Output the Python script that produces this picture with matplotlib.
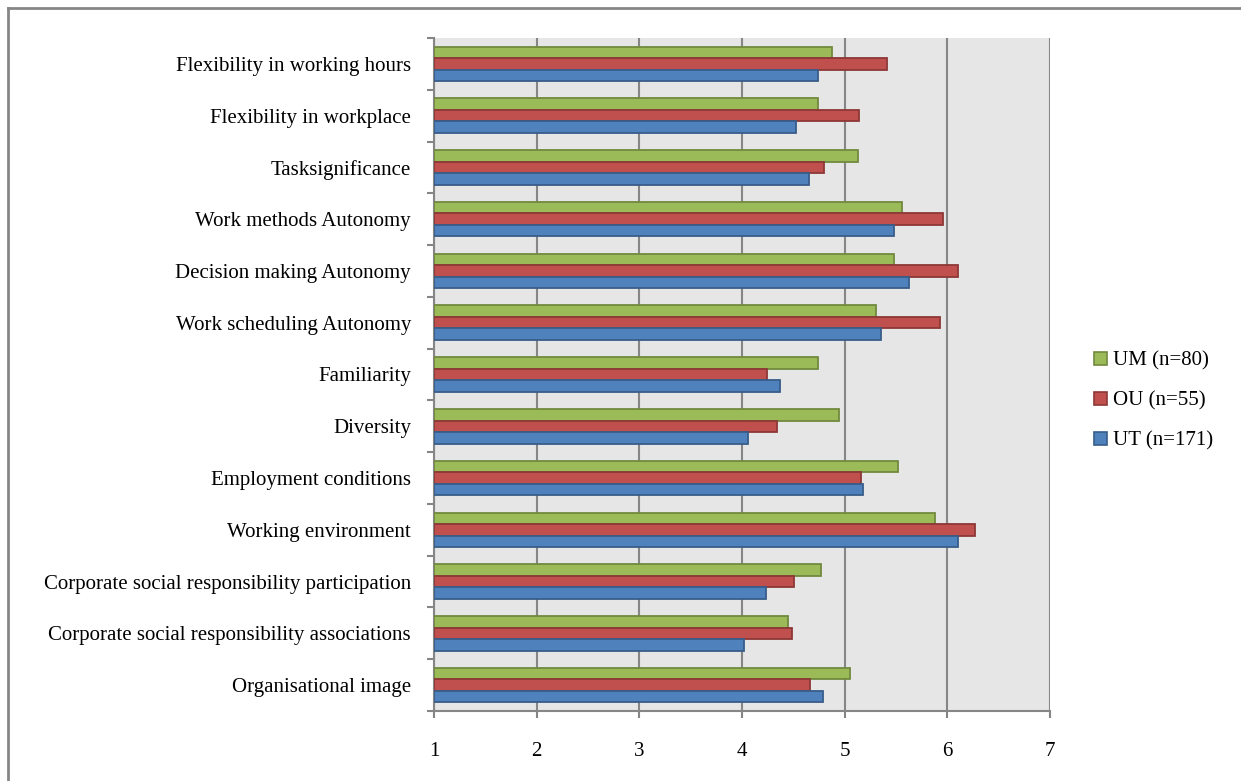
import matplotlib
matplotlib.use("Agg")
import matplotlib.pyplot as plt
from matplotlib.lines import Line2D
from matplotlib.patches import Patch
import numpy as np

categories = [
    "Flexibility in working hours",
    "Flexibility in workplace",
    "Tasksignificance",
    "Work methods Autonomy",
    "Decision making Autonomy",
    "Work scheduling Autonomy",
    "Familiarity",
    "Diversity",
    "Employment conditions",
    "Working environment",
    "Corporate social responsibility participation",
    "Corporate social responsibility associations",
    "Organisational image",
]
um_values = [4.88, 4.74, 5.13, 5.56, 5.48, 5.31, 4.74, 4.94, 5.52, 5.88, 4.77, 4.45, 5.05]
ou_values = [5.41, 5.14, 4.80, 5.96, 6.10, 5.93, 4.24, 4.34, 5.16, 6.27, 4.51, 4.49, 4.66]
ut_values = [4.74, 4.53, 4.65, 5.48, 5.63, 5.35, 4.37, 4.06, 5.18, 6.10, 4.23, 4.02, 4.79]
series_labels = ["UM (n=80)", "OU (n=55)", "UT (n=171)"]
x_ticks = [1, 2, 3, 4, 5, 6, 7]

face_colors = ["#9BBB59", "#C0504D", "#4F81BD"]
edge_colors = ["#71893F", "#8C3836", "#385D8A"]

plt.rcParams["font.family"] = ["Liberation Serif", "DejaVu Serif"]
FS = 15

W, H = 1241, 781
fig = plt.figure(figsize=(W / 100, H / 100), dpi=100)
ax = fig.add_axes([434 / W, 1 - 711 / H, (1050 - 434) / W, (711 - 38) / H])
ax.set_facecolor("#E6E6E6")

n = len(categories)
y_centers = np.arange(n)[::-1].astype(float)  # first category at the top
bar_h = 0.222
offsets = [bar_h, 0.0, -bar_h]  # UM top, OU middle, UT bottom
series = [um_values, ou_values, ut_values]

for vals, off, fc, ec, lab in zip(series, offsets, face_colors, edge_colors, series_labels):
    v = np.array(vals)
    ax.barh(y_centers + off, v - 1, left=1, height=bar_h, color=fc,
            edgecolor=ec, linewidth=1.3, label=lab, zorder=3)

ax.set_xlim(1, 7)
ax.set_ylim(-0.5, n - 0.5)
ax.set_xticks(x_ticks)
ax.set_xticklabels([str(t) for t in x_ticks], fontsize=FS)
ax.xaxis.grid(True, color="#868686", linewidth=1.5, zorder=1)
ax.set_axisbelow(True)

# category labels centred on each group, tick marks on group boundaries
ax.set_yticks(y_centers)
ax.set_yticklabels(categories, fontsize=FS)
ax.tick_params(axis="y", which="major", length=0, pad=16.5)
ax.set_yticks(np.arange(-0.5, n, 1.0), minor=True)
ax.tick_params(axis="y", which="minor", length=5, width=1.5, color="#868686")
ax.tick_params(axis="x", length=5, width=1.5, color="#868686", pad=17)

for side in ["top", "right"]:
    ax.spines[side].set_visible(False)
for side in ["left", "bottom"]:
    ax.spines[side].set_color("#868686")
    ax.spines[side].set_linewidth(1.5)

handles = [Patch(facecolor=fc, edgecolor=ec, linewidth=1.2) for fc, ec in zip(face_colors, edge_colors)]
fig.legend(handles, series_labels, loc="center left", bbox_to_anchor=(1086 / W, 1 - 401 / H),
           frameon=False, fontsize=FS, handlelength=0.6, handleheight=0.6,
           handletextpad=0.3, labelspacing=1.0, borderaxespad=0)

# outer chart frame
fig.add_artist(Line2D([8 / W, 8 / W], [0, 1 - 8 / H], color="#868686", linewidth=2.0))
fig.add_artist(Line2D([8 / W, 1], [1 - 8 / H, 1 - 8 / H], color="#868686", linewidth=2.0))

fig.savefig("out.png", dpi=100)
